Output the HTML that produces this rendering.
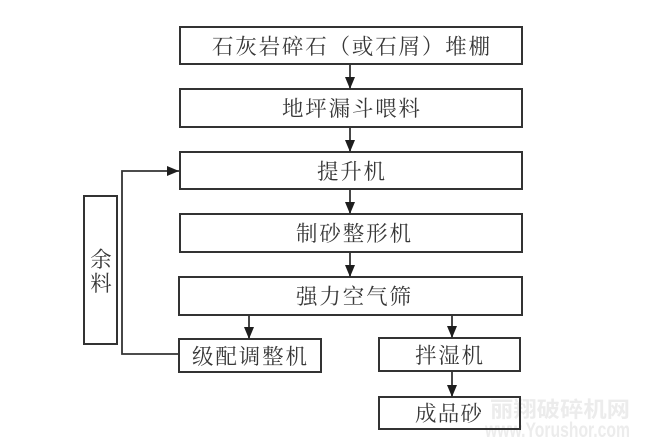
<!DOCTYPE html>
<html>
<head>
<meta charset="utf-8">
<style>
  html, body { margin:0; padding:0; background:#ffffff; }
  body { width:648px; height:441px; overflow:hidden; }
  svg { display:block; }
  text { font-family: "Liberation Serif", "Noto Serif CJK SC", serif; fill:#383838; font-size:21.5px; }
  .wm { fill:#ececec; font-family: "Liberation Sans", "Noto Sans CJK SC", sans-serif; font-weight:bold; }
</style>
</head>
<body>
<svg width="648" height="441" viewBox="0 0 648 441" xmlns="http://www.w3.org/2000/svg">
  <defs>
    <marker id="ah" markerWidth="12" markerHeight="10" refX="12" refY="5" orient="auto" markerUnits="userSpaceOnUse">
      <path d="M0,0 L12,5 L0,10 Z" fill="#1e1e1e"/>
    </marker>
  </defs>

  <!-- watermark -->
  <text class="wm" x="490" y="417" font-size="24" textLength="140" lengthAdjust="spacingAndGlyphs">丽翔破碎机网</text>
  <text class="wm" x="485" y="437" font-size="11" textLength="145" lengthAdjust="spacingAndGlyphs">www.Yorushor.com</text>

  <g fill="none" stroke="#333" stroke-width="2">
    <!-- main column boxes -->
    <rect x="180" y="27" width="342" height="37"/>
    <rect x="180" y="89" width="342" height="38"/>
    <rect x="180" y="152" width="342" height="37"/>
    <rect x="180" y="214" width="342" height="38"/>
    <rect x="179" y="277" width="343" height="38"/>
    <!-- lower boxes -->
    <rect x="179" y="339" width="142" height="33"/>
    <rect x="379" y="338" width="141" height="33"/>
    <rect x="379" y="397" width="141" height="32"/>
    <!-- 余料 box -->
    <rect x="84" y="196" width="33" height="148"/>
  </g>

  <!-- arrows -->
  <g stroke="#333" stroke-width="1.8" fill="none">
    <line x1="350" y1="64" x2="350" y2="89" marker-end="url(#ah)"/>
    <line x1="350" y1="127" x2="350" y2="152" marker-end="url(#ah)"/>
    <line x1="350" y1="189" x2="350" y2="214" marker-end="url(#ah)"/>
    <line x1="350" y1="252" x2="350" y2="277" marker-end="url(#ah)"/>
    <line x1="249" y1="315" x2="249" y2="339" marker-end="url(#ah)"/>
    <line x1="452" y1="315" x2="452" y2="338" marker-end="url(#ah)"/>
    <line x1="452" y1="371" x2="452" y2="397" marker-end="url(#ah)"/>
    <polyline points="179,354 122,354 122,171 179,171" marker-end="url(#ah)"/>
  </g>

  <!-- labels -->
  <text x="212" y="54" textLength="278" lengthAdjust="spacing">石灰岩碎石（或石屑）堆棚</text>
  <text x="282" y="116" textLength="138" lengthAdjust="spacing">地坪漏斗喂料</text>
  <text x="317" y="179" textLength="68" lengthAdjust="spacing">提升机</text>
  <text x="296" y="241" textLength="115" lengthAdjust="spacing">制砂整形机</text>
  <text x="296" y="304" textLength="115" lengthAdjust="spacing">强力空气筛</text>
  <text x="192" y="364" textLength="115" lengthAdjust="spacing">级配调整机</text>
  <text x="415" y="363" textLength="68" lengthAdjust="spacing">拌湿机</text>
  <text x="415" y="421" textLength="67" lengthAdjust="spacing">成品砂</text>
  <text x="101" y="267" text-anchor="middle">余</text>
  <text x="101" y="291" text-anchor="middle">料</text>
</svg>
</body>
</html>
